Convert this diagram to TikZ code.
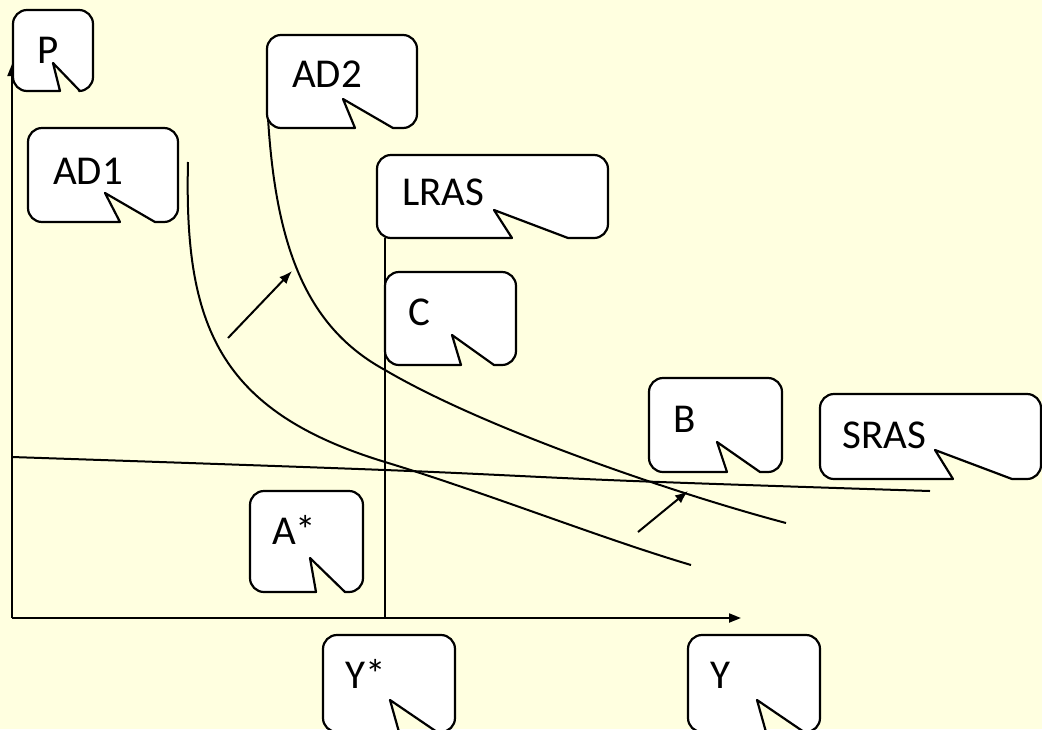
\documentclass[tikz,border=0pt]{standalone}
\usepackage{fontspec}
\setmainfont{Carlito}
\usetikzlibrary{arrows.meta}
\definecolor{paper}{RGB}{255,255,224}
% callout: x1 y1 x2 y2, tip of the notch, left and right foot of the notch
\newcommand{\speechbox}[8]{%
  \draw[box] (#5,#6) -- (#7,#4) [rounded corners=14pt] -- (#1,#4) -- (#1,#2)
    -- (#3,#2) -- (#3,#4) [sharp corners] -- (#8,#4) -- cycle;}

\begin{document}
\begin{tikzpicture}[x=1pt, y=-1pt,
  box/.style = {draw, fill=white, line width=2.2pt, line join=round},
  lbl/.style = {inner sep=0pt, anchor=base west, font=\fontsize{41}{48}\selectfont},
  curve/.style = {line width=2pt},
  axis/.style = {line width=2pt, -{Triangle[length=12pt,width=9pt]}},
  adshift/.style = {line width=2pt, -{Latex[length=13pt,width=10pt]}}]
  \fill[paper] (0,0) rectangle (1042,729);
  \useasboundingbox (0,0) rectangle (1042,729);
  % axes
  \coordinate (O) at (12,618);
  \coordinate (ptop) at (12,64);
  \coordinate (yend) at (741,618);
  \draw[axis] (O) -- (ptop);
  \draw[axis] (O) -- (yend);
  % curves
  \coordinate (ad1top) at (188,162);
  \coordinate (ad1mid) at (385,462);
  \coordinate (ad1end) at (691,565);
  \draw[curve] (ad1top) .. controls (184,325) and (218,411) .. (ad1mid)
    .. controls (487,493) and (600,538) .. (ad1end);
  \coordinate (ad2top) at (268,118);
  \coordinate (ad2mid) at (385,370);
  \coordinate (ad2end) at (786,523);
  \draw[curve] (ad2top) .. controls (276,250) and (308,328) .. (ad2mid)
    .. controls (487,430) and (680,495) .. (ad2end);
  \draw[curve] plot[smooth, tension=0.6] coordinates
    {(12,457) (385,470) (633,481) (930,491)};
  \coordinate (lrastop) at (385,238);
  \coordinate (lrasfoot) at (385,618);
  \draw[curve] (lrastop) -- (lrasfoot);
  % shifts of AD
  \coordinate (s1) at (228,338);
  \coordinate (t1) at (292,271);
  \coordinate (s2) at (638,532);
  \coordinate (t2) at (688,491);
  \draw[adshift] (s1) -- (t1);
  \draw[adshift] (s2) -- (t2);
  % labels
  \speechbox{13}{10}{93}{91}{53}{63}{60}{80}
  \node[lbl] (p) at (37,63) {P};
  \speechbox{267}{35}{417}{128}{343}{99}{355}{393}
  \node[lbl] (ad2) at (292,87) {AD2};
  \speechbox{28}{128}{178}{222}{105}{193}{120}{155}
  \node[lbl] (ad1) at (53,184) {AD1};
  \speechbox{377}{155}{608}{238}{494}{210}{512}{568}
  \node[lbl] (lras) at (402,205) {LRAS};
  \speechbox{385}{272}{516}{365}{452}{335}{461}{494}
  \node[lbl] (c) at (408,325) {C};
  \speechbox{649}{378}{782}{472}{717}{442}{727}{760}
  \node[lbl] (b) at (673,432) {B};
  \speechbox{820}{394}{1041}{479}{935}{450}{953}{1012}
  \node[lbl] (sras) at (842,448) {SRAS};
  \speechbox{250}{491}{363}{592}{310}{558}{316}{345}
  \node[lbl] (astar) at (272,544) {A*};
  \speechbox{323}{635}{455}{732}{390}{700}{399}{437}
  \node[lbl] (ystar) at (345,688) {Y*};
  \speechbox{688}{635}{820}{732}{757}{700}{766}{804}
  \node[lbl] (y) at (710,688) {Y};
\end{tikzpicture}
\end{document}
